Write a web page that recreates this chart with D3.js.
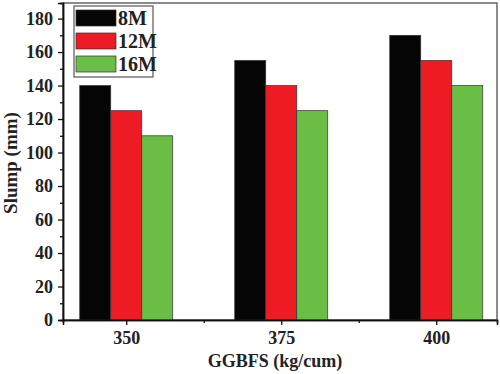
<!DOCTYPE html>
<html>
<head>
<meta charset="utf-8">
<style>
  body { margin: 0; background: #fff; }
  text { font-family: "Liberation Serif", "Times New Roman", serif; font-weight: bold; fill: #222; }
</style>
</head>
<body>
<script src="https://cdn.jsdelivr.net/npm/d3@7/dist/d3.min.js"></script>
<script>
var categories = [350, 375, 400];
var seriesNames = ["8M", "12M", "16M"];
var seriesColors = ["#050505", "#ed1c24", "#6abd45"];
var values8M = [140, 155, 170];
var values12M = [125, 140, 155];
var values16M = [110, 125, 140];
var yTicks = [0, 20, 40, 60, 80, 100, 120, 140, 160, 180];

var series = [values8M, values12M, values16M];

var width = 500, height = 374;
var margin = {top: 3, right: 3, bottom: 54, left: 63};

var svg = d3.select("body").append("svg")
  .attr("width", width)
  .attr("height", height);

var x = d3.scaleLinear().domain([339.8, 409.8]).range([margin.left, width - margin.right]);
var y = d3.scaleLinear().domain([0, 189.3]).range([height - margin.bottom, margin.top]);

var barW = 5; // in x units

// frame
svg.append("rect")
  .attr("x", margin.left).attr("y", margin.top)
  .attr("width", width - margin.right - margin.left)
  .attr("height", height - margin.bottom - margin.top)
  .attr("fill", "none").attr("stroke", "#666").attr("stroke-width", 1.5);

// bars
series.forEach(function(vals, si) {
  svg.append("g").selectAll("rect")
    .data(vals)
    .enter().append("rect")
    .attr("x", function(d, i) { return x(categories[i] - 1.5 * barW + si * barW); })
    .attr("y", function(d) { return y(d); })
    .attr("width", x(barW) - x(0))
    .attr("height", function(d) { return y(0) - y(d); })
    .attr("fill", seriesColors[si])
    .attr("stroke", "#333").attr("stroke-width", 0.7);
});

// axes
svg.append("g")
  .attr("transform", "translate(" + margin.left + ",0)")
  .call(d3.axisLeft(y).tickValues(yTicks).tickSize(5).tickPadding(5).tickFormat(d3.format("d")));
svg.append("g")
  .attr("transform", "translate(" + margin.left + ",0)")
  .call(d3.axisLeft(y).tickValues(d3.range(10, 190, 20)).tickSize(3).tickFormat(""));

svg.append("g")
  .attr("transform", "translate(0," + y(0) + ")")
  .call(d3.axisBottom(x).tickValues(categories).tickSize(5).tickPadding(6).tickFormat(d3.format("d")));
svg.append("g")
  .attr("transform", "translate(0," + y(0) + ")")
  .call(d3.axisBottom(x).tickValues([362.5, 387.5]).tickSize(3).tickFormat(""));

svg.selectAll(".domain").attr("stroke", "#111").attr("stroke-width", 1.5);
svg.selectAll(".tick line").attr("stroke", "#111").attr("stroke-width", 1.3);
svg.selectAll(".tick text").style("font-size", "18px").style("font-family", "Liberation Serif").style("font-weight", "bold").attr("fill", "#222");

// axis titles
svg.append("text")
  .attr("transform", "translate(17,163) rotate(-90)")
  .attr("text-anchor", "middle")
  .style("font-size", "19px")
  .text("Slump (mm)");

svg.append("text")
  .attr("x", 275)
  .attr("y", 367)
  .attr("text-anchor", "middle")
  .style("font-size", "18px")
  .text("GGBFS (kg/cum)");

// legend
var legend = svg.append("g").attr("transform", "translate(74,6)");
legend.append("rect")
  .attr("width", 79).attr("height", 71)
  .attr("fill", "#fff").attr("stroke", "#555").attr("stroke-width", 1.2);
var item = legend.selectAll(".item")
  .data(seriesNames)
  .enter().append("g")
  .attr("transform", function(d, i) { return "translate(2," + (4 + i * 23) + ")"; });
item.append("rect")
  .attr("width", 40).attr("height", 16)
  .attr("fill", function(d, i) { return seriesColors[i]; })
  .attr("stroke", "#333").attr("stroke-width", 0.7);
item.append("text")
  .attr("x", 42).attr("y", 15)
  .style("font-size", "20px")
  .text(function(d) { return d; });
</script>
</body>
</html>
